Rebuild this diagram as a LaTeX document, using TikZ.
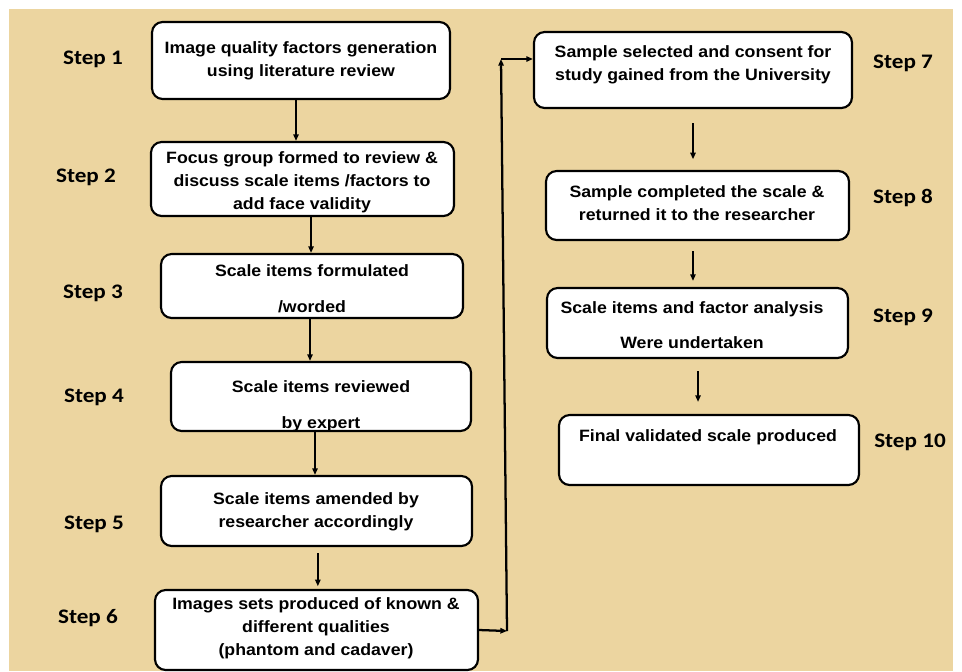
\documentclass[tikz,border=0pt]{standalone}
\usepackage{fontspec}
\setmainfont{Liberation Sans}
\newfontfamily\boxfont[FakeStretch=1.08]{Liberation Sans}
\newfontfamily\stepfont[FakeStretch=1.12]{Carlito}
\usetikzlibrary{arrows.meta}
\definecolor{parchment}{RGB}{236,213,160}

\begin{document}
\begin{tikzpicture}[x=0.75pt, y=-0.75pt,
  box/.style={draw=black, line width=1.6pt, fill=white, rounded corners=8pt, inner sep=0pt},
  txt/.style={align=center, inner sep=0pt, font=\boxfont\bfseries\fontsize{12.3}{17.25}\selectfont},
  steplbl/.style={inner sep=0pt, font=\stepfont\bfseries\fontsize{15.5}{18}\selectfont},
  arr/.style={line width=1.7pt, -{Triangle[length=5pt,width=4pt]}}]
\useasboundingbox (0,0) rectangle (962,671);
\fill[parchment] (9,9) rectangle (953,671);                  % Hintergrund
% linke Spalte
\node[box, minimum width=223.5pt, minimum height=57.75pt] (b1) at (301,60.5) {};
\node[box, minimum width=227.25pt, minimum height=55.5pt] (b2) at (302.5,179) {};
\node[box, minimum width=226.5pt, minimum height=48pt] (b3) at (312,286) {};
\node[box, minimum width=225pt, minimum height=51.75pt] (b4) at (321,396.5) {};
\node[box, minimum width=233.25pt, minimum height=52.5pt] (b5) at (316.5,511) {};
\node[box, minimum width=242.25pt, minimum height=60pt] (b6) at (316.5,630) {};
% rechte Spalte
\node[box, minimum width=238.5pt, minimum height=57pt] (b7) at (693,70) {};
\node[box, minimum width=227.25pt, minimum height=51.75pt] (b8) at (697.5,205.5) {};
\node[box, minimum width=225.75pt, minimum height=52.5pt] (b9) at (697.5,323) {};
\node[box, minimum width=225pt, minimum height=52.5pt] (b10) at (709,450) {};
% Texte
\node[txt] (t1) at (301,61) {Image quality factors generation\\using literature review};
\node[txt] (t2) at (302,182) {Focus group formed to review \&\\discuss scale items /factors to\\add face validity};
\node[txt] (t3) at (312,289) {Scale items formulated\\[9.75pt]/worded};
\node[txt] (t4) at (321,406) {Scale items reviewed\\[9.75pt]by expert};
\node[txt] (t5) at (316,512) {Scale items amended by\\researcher accordingly};
\node[txt] (t6) at (316,628) {Images sets produced of known \&\\different qualities\\(phantom and cadaver)};
\node[txt] (t7) at (693,64.5) {Sample selected and consent for\\study gained from the University};
\node[txt] (t8) at (697,203) {Sample completed the scale \&\\returned it to the researcher};
\node[txt] (t9) at (692,325.5) {Scale items and factor analysis\\[9pt]Were undertaken};
\node[txt] (t10) at (708,437) {Final validated scale produced};
% Schritte
\node[steplbl] (s1) at (93,59) {Step 1};
\node[steplbl] (s2) at (86,177) {Step 2};
\node[steplbl] (s3) at (93,293) {Step 3};
\node[steplbl] (s4) at (94,397) {Step 4};
\node[steplbl] (s5) at (94,524) {Step 5};
\node[steplbl] (s6) at (88,618) {Step 6};
\node[steplbl] (s7) at (903,63) {Step 7};
\node[steplbl] (s8) at (903,198) {Step 8};
\node[steplbl] (s9) at (903,317) {Step 9};
\node[steplbl] (s10) at (910,442) {Step 10};
% Pfeile
\draw[arr] ([xshift=-3.75pt]b1.south) -- ([xshift=-3.75pt]b1.south |- b2.north);
\draw[arr] ([xshift=6.4pt]b2.south) -- ([xshift=6.4pt]b2.south |- b3.north);
\draw[arr] ([xshift=-1.5pt]b3.south) -- ([xshift=-1.5pt]b3.south |- b4.north);
\draw[arr] ([xshift=-4.5pt]b4.south) -- ([xshift=-4.5pt]b4.south |- b5.north);
\draw[arr, shorten <=4.5pt, shorten >=2pt] ([xshift=1pt]b5.south) -- ([xshift=1pt]b5.south |- b6.north);
\draw[arr, shorten <=10.5pt, shorten >=8pt] (b7.south) -- (b7.south |- b8.north);
\draw[arr, shorten <=7.5pt, shorten >=4.5pt] ([xshift=-3.4pt]b8.south) -- ([xshift=-3.4pt]b8.south |- b9.north);
\draw[arr, shorten <=9pt, shorten >=9pt] ([xshift=0.4pt]b9.south) -- ([xshift=0.4pt]b9.south |- b10.north);
\coordinate (c1) at (507,631);
\coordinate (c2) at (501,59);
\draw[arr] (b6.east) -- (c1);
\draw[arr] (c1) -- (c2);
\draw[arr] (c2) -- (c2 -| b7.west);
\end{tikzpicture}
\end{document}
